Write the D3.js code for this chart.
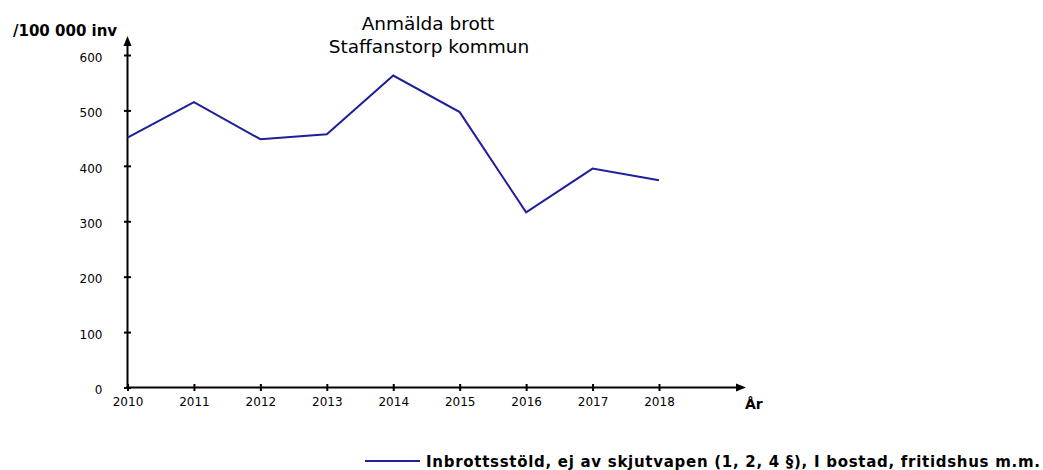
<!DOCTYPE html>
<html>
<head>
<meta charset="utf-8">
<script src="https://d3js.org/d3.v7.min.js"></script>
<style>
  html, body { margin: 0; padding: 0; background: #fff; }
  svg { display: block; font-family: "DejaVu Sans", Verdana, sans-serif; }
</style>
</head>
<body>
<svg id="chart" width="1043" height="470"></svg>
<script>
const years = [2010, 2011, 2012, 2013, 2014, 2015, 2016, 2017, 2018];
const values = [451, 515, 448, 457, 563, 497, 316, 395, 374];
const yTicks = [0, 100, 200, 300, 400, 500, 600];
const titleLines = ["Anmälda brott", "Staffanstorp kommun"];
const yAxisLabel = "/100 000 inv";
const xAxisLabel = "År";
const seriesName = "Inbrottsstöld, ej av skjutvapen (1, 2, 4 §), I bostad, fritidshus m.m.";

const svg = d3.select("#chart");
const x = d3.scaleLinear().domain([2010, 2018]).range([127.5, 659]);
const y = d3.scaleLinear().domain([0, 600]).range([387.5, 55]);
const lineColor = "#1f1f99";

// title
svg.append("text").attr("x", 428).attr("y", 30).attr("text-anchor", "middle")
  .attr("font-size", 18.5).attr("fill", "#000").text(titleLines[0]);
svg.append("text").attr("x", 429).attr("y", 53).attr("text-anchor", "middle")
  .attr("font-size", 18.5).attr("fill", "#000").text(titleLines[1]);

// y axis label
svg.append("text").attr("x", 13).attr("y", 36).attr("font-size", 15)
  .attr("font-weight", "bold").text(yAxisLabel);

// axes lines
const x0 = x(2010), y0 = y(0);
svg.append("line").attr("x1", x0).attr("x2", x0).attr("y1", y0 + 1).attr("y2", 44)
  .attr("stroke", "#000").attr("stroke-width", 2);
svg.append("path").attr("d", `M${x0},36 L${x0 - 4},46 L${x0 + 4},46 Z`).attr("fill", "#000");
svg.append("line").attr("x1", x0 - 1).attr("x2", 738).attr("y1", y0).attr("y2", y0)
  .attr("stroke", "#000").attr("stroke-width", 2);
svg.append("path").attr("d", `M746,${y0} L736,${y0 - 4} L736,${y0 + 4} Z`).attr("fill", "#000");

// y ticks
const yAxis = d3.axisLeft(y).tickValues(yTicks).tickSize(0).tickFormat(d3.format("d"));
const gy = svg.append("g").attr("transform", `translate(${x0},0)`).call(yAxis);
gy.select(".domain").remove();
gy.selectAll(".tick text").attr("x", -25).attr("dy", "0.85em").attr("y", -4)
  .attr("font-size", 12).attr("font-family", "DejaVu Sans, sans-serif").attr("fill", "#000");
gy.selectAll(".tick").append("line").attr("x1", -3.5).attr("x2", 3.5)
  .attr("stroke", "#000").attr("stroke-width", 2);

// x ticks
const xAxis = d3.axisBottom(x).tickValues(years).tickSize(0).tickFormat(d3.format("d"));
const gx = svg.append("g").attr("transform", `translate(0,${y0})`).call(xAxis);
gx.select(".domain").remove();
gx.selectAll(".tick text").attr("y", 18.5).attr("dy", 0)
  .attr("font-size", 12).attr("font-family", "DejaVu Sans, sans-serif").attr("fill", "#000");
gx.selectAll(".tick").append("line").attr("y1", -3.5).attr("y2", 3.5)
  .attr("stroke", "#000").attr("stroke-width", 2);

// x axis label
svg.append("text").attr("x", 745).attr("y", 409).attr("font-size", 14)
  .attr("font-weight", "bold").text(xAxisLabel);

// data line
const line = d3.line().x((d, i) => x(years[i])).y(d => y(d));
svg.append("path").datum(values).attr("d", line).attr("fill", "none")
  .attr("stroke", lineColor).attr("stroke-width", 2).attr("stroke-linejoin", "miter");

// legend
svg.append("line").attr("x1", 365).attr("x2", 420).attr("y1", 461).attr("y2", 461)
  .attr("stroke", lineColor).attr("stroke-width", 2);
svg.append("text").attr("x", 426).attr("y", 467).attr("font-size", 15)
  .attr("font-weight", "bold").attr("textLength", 614).attr("lengthAdjust", "spacing")
  .text(seriesName);
</script>
</body>
</html>
